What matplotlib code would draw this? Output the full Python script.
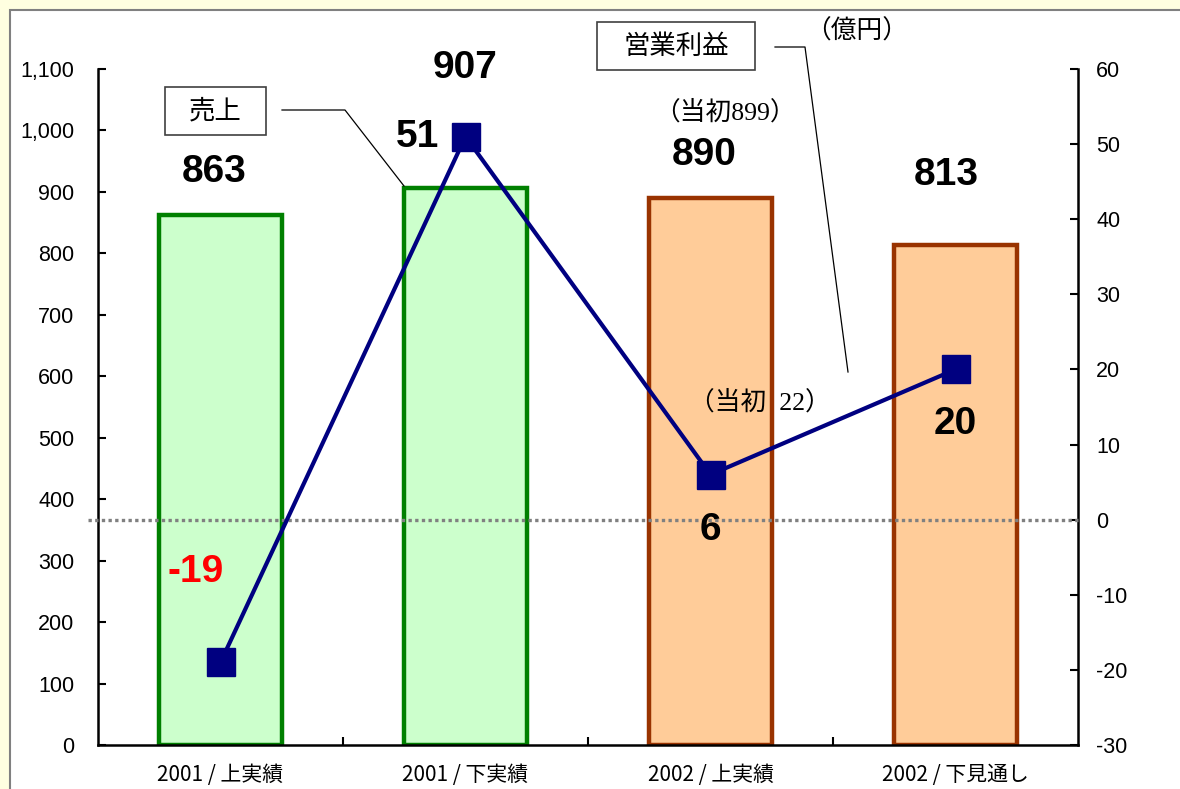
import matplotlib
matplotlib.use("Agg")
import matplotlib.pyplot as plt
from matplotlib.patches import Rectangle
from matplotlib.lines import Line2D
from matplotlib.ticker import FuncFormatter, FixedLocator

# ---- data ----
categories = ["2001 / 上実績", "2001 / 下実績", "2002 / 上実績", "2002 / 下見通し"]
sales = [863, 907, 890, 813]
profit = [-19, 51, 6, 20]
sales_labels = ["863", "907", "890", "813"]
profit_labels = ["-19", "51", "6", "20"]
left_ticks = list(range(0, 1101, 100))
right_ticks = list(range(-30, 61, 10))

W, H = 1180, 789
SANS = ["Liberation Sans", "Noto Sans CJK JP", "DejaVu Sans"]
CJK = ["Noto Sans CJK JP", "DejaVu Sans"]
SERIF_CJK = ["Liberation Serif", "Noto Sans CJK JP", "DejaVu Sans"]
plt.rcParams["font.family"] = SANS
plt.rcParams["axes.unicode_minus"] = False


def px(x, y):
    return (x / W, 1 - y / H)


fig = plt.figure(figsize=(W / 100, H / 100), dpi=100, facecolor="#FFFFE0")
# white panel with grey frame
fig.patches.append(Rectangle((10 / W, -0.1), 1.2, 1.1 - 10 / H, transform=fig.transFigure,
                             facecolor="white", edgecolor="#808080", lw=1.5, zorder=-5))

ax = fig.add_axes([98 / W, 1 - 745 / H, 980 / W, 676 / H])
ax.patch.set_visible(False)
x = list(range(len(categories)))
fills = ["#CCFFCC", "#CCFFCC", "#FFCC99", "#FFCC99"]
edges = ["#008000", "#008000", "#993300", "#993300"]
ax.bar(x, sales, width=0.5, color=fills, edgecolor=edges, linewidth=3.2, zorder=2)
ax.set_xlim(-0.5, 3.5)
ax.set_ylim(0, 1100)
ax.set_yticks(left_ticks)
ax.yaxis.set_major_formatter(FuncFormatter(lambda v, p: f"{int(v):,}"))
ax.set_xticks(x)
ax.set_xticklabels(categories, family=CJK, fontsize=15)
ax.xaxis.set_minor_locator(FixedLocator([0.5, 1.5, 2.5]))
ax.tick_params(axis="x", which="major", length=0, pad=14)
ax.tick_params(axis="x", which="minor", direction="in", length=6, width=1.5)
ax.tick_params(axis="y", direction="in", length=6, width=1.5, labelsize=15.5, pad=17)
for s in ["top", "right"]:
    ax.spines[s].set_visible(False)
for s in ["left", "bottom"]:
    ax.spines[s].set_linewidth(1.8)

ax2 = ax.twinx()
ax2.patch.set_visible(False)
ax2.set_ylim(-30, 60)
ax2.set_yticks(right_ticks)
ax2.tick_params(axis="y", direction="in", length=6, width=1.5, labelsize=15.5, pad=13)
for s in ["top", "left", "bottom"]:
    ax2.spines[s].set_visible(False)
ax2.spines["right"].set_linewidth(1.8)
ax2.axhline(0, xmin=-10 / 980, xmax=1.0, color="#808080", lw=2.4,
            ls=(0, (1, 1)), clip_on=False, zorder=3)
ax2.plot(x, profit, color="#000080", lw=3, marker="s", ms=19.5, mec="#000080",
         mfc="#000080", zorder=4)

# sales labels
sales_off = [(-6, 43), (0, 120), (-6, 43), (-9, 70)]
for i, (v, t) in enumerate(zip(sales, sales_labels)):
    ax.annotate(t, (i, v), xytext=sales_off[i], textcoords="offset pixels",
                ha="center", va="center", fontsize=28, fontweight="bold", color="black",
                zorder=5)

# profit labels
prof_off = [(-25, 90), (-48, 0), (0, -55), (0, -55)]
prof_col = ["#FF0000", "black", "black", "black"]
for i, (v, t) in enumerate(zip(profit, profit_labels)):
    ax2.annotate(t, (i, v), xytext=prof_off[i], textcoords="offset pixels",
                 ha="center", va="center", fontsize=28, fontweight="bold",
                 color=prof_col[i], zorder=5)

# initial-plan notes
fig.text(*px(725, 112), "（当初899）", family=SERIF_CJK, fontsize=18.5, ha="center", va="center")
fig.text(*px(760, 402), "（当初  22）", family=SERIF_CJK, fontsize=18.5, ha="center", va="center")
fig.text(*px(857, 32), "（億円）", family=CJK, fontsize=18.5, ha="center", va="center")

# legend boxes
def box(x0, y0, x1, y1, label):
    fig.patches.append(Rectangle(px(x0, y1), (x1 - x0) / W, (y1 - y0) / H,
                                 transform=fig.transFigure, facecolor="white",
                                 edgecolor="#404040", lw=1.2, zorder=6))
    fig.text(*px((x0 + x1) / 2, (y0 + y1) / 2), label, family=CJK, fontsize=19,
             ha="center", va="center", zorder=7)

box(165, 87, 266, 135, "売上")
box(597, 22, 755, 70, "営業利益")

def poly(pts):
    xs = [p[0] / W for p in pts]
    ys = [1 - p[1] / H for p in pts]
    fig.add_artist(Line2D(xs, ys, transform=fig.transFigure, color="black", lw=0.9, zorder=6))

poly([(282, 110), (345, 110), (404, 186)])
poly([(775, 47), (805, 47), (848, 372)])

fig.savefig("out.png", dpi=100, facecolor=fig.get_facecolor())
